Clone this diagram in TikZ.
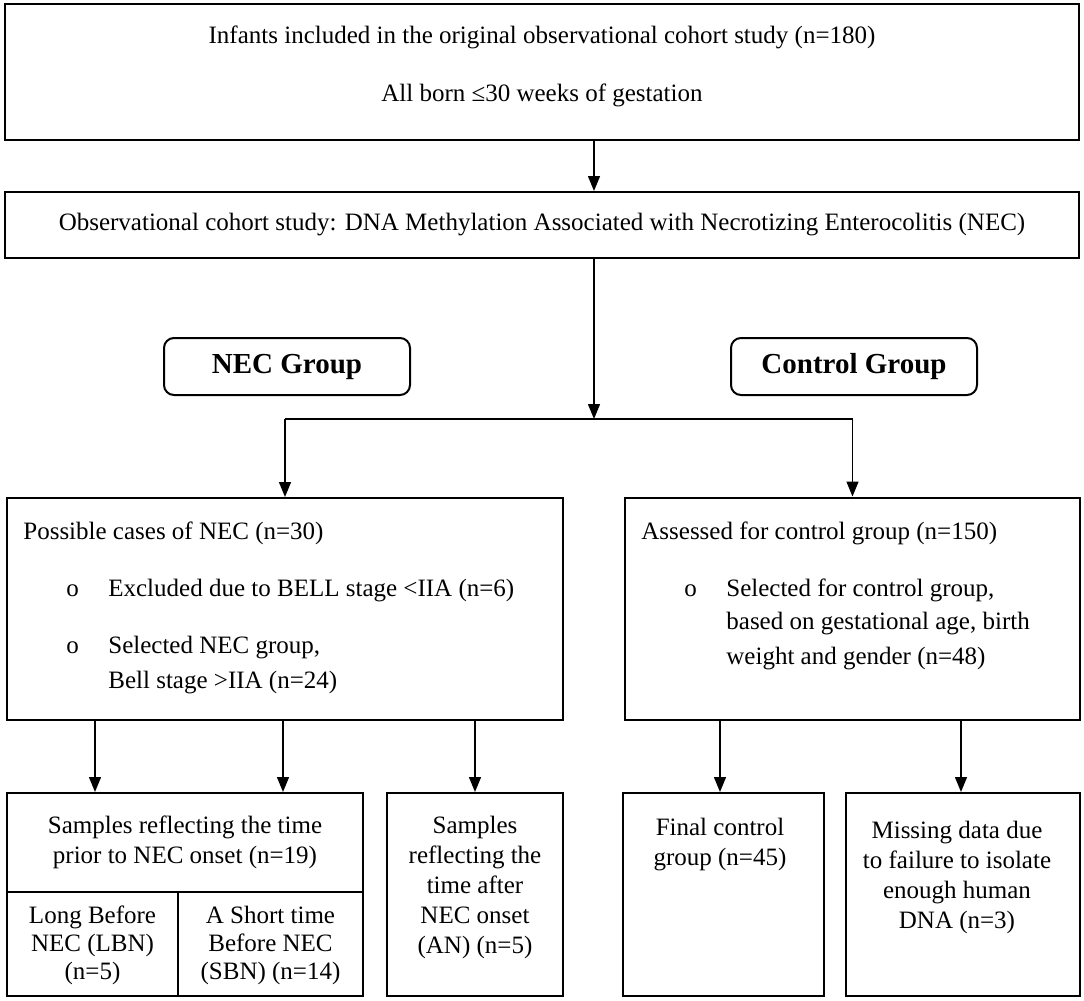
\documentclass[tikz,border=0pt]{standalone}
\usepackage{fontspec}
\setmainfont{Liberation Serif}
\usetikzlibrary{positioning}
\usetikzlibrary{arrows.meta}
\tikzstyle{flow box} = [draw, line width=1pt, inner sep=0pt]
\tikzstyle{group box} = [flow box, rounded corners=5pt, minimum width=123pt,
minimum height=28.5pt, font=\fontsize{14.5}{17}\bfseries]
\tikzstyle{flow text} = [inner sep=0pt, align=center, font=\fontsize{12.5}{15}\selectfont]
\tikzstyle{list text} = [inner sep=0pt, align=left, font=\fontsize{12.5}{15}\selectfont]
\tikzstyle{flow arrow} = [line width=0.7pt, -{Triangle[length=7.5pt,width=6pt]}]
\tikzstyle{flow line} = [line width=0.7pt]
\newcommand{\bulletitem}{\makebox[42.5pt][l]{\hspace*{21.5pt}o}}

\begin{document}
\begin{tikzpicture}[x=0.5pt,y=-0.5pt]
  \useasboundingbox (0,0) rectangle (1084,1001);

  % top of the flow
  \node[flow box, minimum width=537pt, minimum height=68pt] (cohort) at (542,72) {};
  \node[flow text] (cohorttext) at (542,66)
    {Infants included in the original observational cohort study (n=180)\\[14pt]
     All born ≤30 weeks of gestation};
  \node[flow box, flow text, minimum width=537pt, minimum height=33pt] (study) at (542,225)
    {Observational cohort study: DNA Methylation Associated with Necrotizing Enterocolitis (NEC)};

  % the two groups
  \node[group box] (necgroup) at (287,366.5) {NEC Group};
  \node[group box] (ctrlgroup) at (854,366.5) {Control Group};

  \node[flow box, minimum width=278pt, minimum height=111pt] (possible) at (285,609) {};
  \node[list text, anchor=west] (possibletext) at (23,607.5)
    {Possible cases of NEC (n=30)\\[13.5pt]
     \bulletitem Excluded due to BELL stage <IIA (n=6)\\[13.5pt]
     \bulletitem Selected NEC group,\\[2.5pt]
     \hspace*{42.5pt}Bell stage >IIA (n=24)};

  \node[flow box, minimum width=227.5pt, minimum height=111pt] (assessed) at (852.5,608.5) {};
  \node[list text, anchor=west] (assessedtext) at (641,595.5)
    {Assessed for control group (n=150)\\[13.5pt]
     \bulletitem Selected for control group,\\[1.5pt]
     \hspace*{42.5pt}based on gestational age, birth\\[2.5pt]
     \hspace*{42.5pt}weight and gender (n=48)};

  % bottom row
  \node[flow box, minimum width=178pt, minimum height=101.5pt] (samples) at (185,894.5) {};
  \node[flow text] (samplestext) at (185,842)
    {Samples reflecting the time\\prior to NEC onset (n=19)};
  \node[flow text, font=\fontsize{12.5}{14}\selectfont] (lbn) at (92.5,945)
    {Long Before\\NEC (LBN)\\(n=5)};
  \node[flow text, font=\fontsize{12.5}{14}\selectfont] (sbn) at (270.5,945)
    {A Short time\\Before NEC\\(SBN) (n=14)};
  \node[flow box, minimum width=88pt, minimum height=101.5pt] (after) at (475,894.5) {};
  \node[flow text] (aftertext) at (475,887)
    {Samples\\reflecting the\\time after\\NEC onset\\(AN) (n=5)};
  \node[flow box, minimum width=100.5pt, minimum height=101.5pt] (final) at (723.5,894.5) {};
  \node[flow text] (finaltext) at (720,845) {Final control\\group (n=45)};
  \node[flow box, minimum width=117pt, minimum height=101.5pt] (missing) at (963,894.5) {};
  \node[flow text] (missingtext) at (957,877)
    {Missing data due\\to failure to isolate\\enough human\\DNA (n=3)};

  % split of the samples box
  \coordinate (split) at (0,892);
  \coordinate (vsplit) at (178,0);
  \draw[line width=1pt] (samples.west |- split) -- (samples.east |- split);
  \draw[line width=1pt] (vsplit |- split) -- (vsplit |- samples.south);

  % connectors
  \coordinate (trunk) at (594,0);
  \coordinate (fork) at (594,419);
  \coordinate (lbnx) at (95,0);
  \coordinate (sbnx) at (283,0);
  \coordinate (finalx) at (720,0);
  \coordinate (missingx) at (961,0);
  \draw[flow arrow] (trunk |- cohort.south) -- (trunk |- study.north);
  \draw[flow arrow] (trunk |- study.south) -- (fork);
  \draw[flow line] (possible.north |- fork) -- (assessed.north |- fork);
  \draw[flow arrow] (possible.north |- fork) -- (possible.north);
  \draw[flow arrow] (assessed.north |- fork) -- (assessed.north);
  \draw[flow arrow] (possible.south -| lbnx) -- (samples.north -| lbnx);
  \draw[flow arrow] (possible.south -| sbnx) -- (samples.north -| sbnx);
  \draw[flow arrow] (possible.south -| after) -- (after.north);
  \draw[flow arrow] (assessed.south -| finalx) -- (final.north -| finalx);
  \draw[flow arrow] (assessed.south -| missingx) -- (missing.north -| missingx);
\end{tikzpicture}
\end{document}
